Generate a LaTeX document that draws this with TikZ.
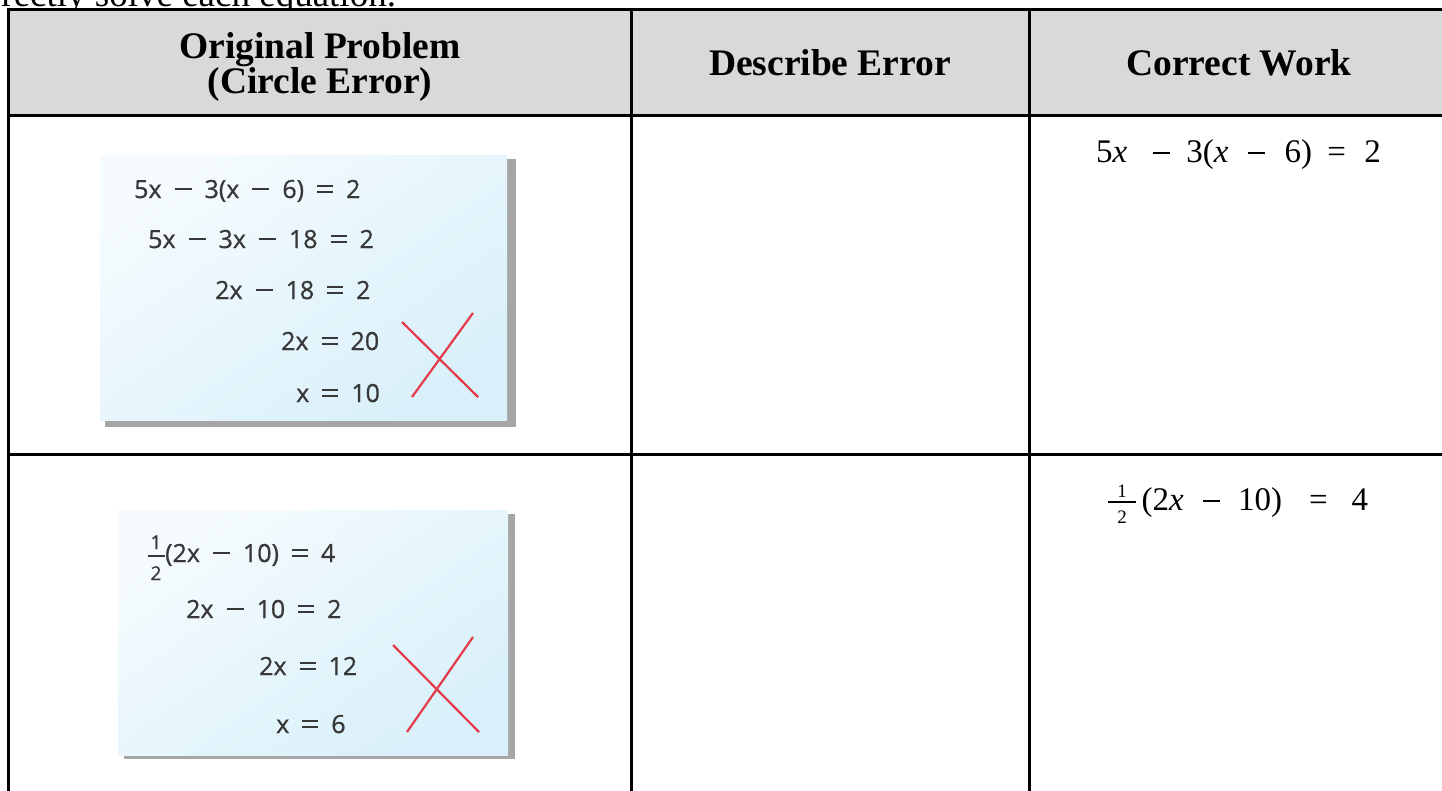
\documentclass[tikz,border=0pt]{standalone}
\usepackage{fontspec}
\setmainfont{Liberation Serif}
\newfontfamily\notefont[FakeBold=0.8]{Open Sans}
\definecolor{hdrgray}{HTML}{D9D9D9}
\definecolor{noteA}{HTML}{D9F0FA}
\definecolor{noteC}{HTML}{F5FBFE}
\definecolor{shadowgray}{HTML}{A6A6A6}
\definecolor{ink}{HTML}{383838}
\definecolor{xred}{HTML}{E43A4A}
\newcommand\ngap{\hspace{13pt}}
\newcommand\nminus{\rule[0.32em]{17pt}{1.9pt}}
\newcommand\nequal{\rlap{\rule[0.2em]{16pt}{1.9pt}}\rule[0.46em]{16pt}{1.9pt}}
\newcommand\wminus{\rule[0.25em]{16.5pt}{1.3pt}}
\newcommand\vx{\textit{x}}
\begin{document}
\begin{tikzpicture}[x=1pt,y=-1pt,
  gridline/.style={line width=3pt, black},
  hdr/.style={font=\fontsize{37.5}{35}\selectfont\bfseries, inner sep=0pt, anchor=base},
  noteeq/.style={font=\notefont\fontsize{25}{25}\selectfont, text=ink, inner sep=0pt, anchor=base west},
  notefrac/.style={font=\notefont\fontsize{19}{19}\selectfont, text=ink, inner sep=0pt, anchor=base},
  workeq/.style={font=\fontsize{33}{40}\selectfont, inner sep=0pt, anchor=base west},
  workfrac/.style={font=\fontsize{19}{19}\selectfont, inner sep=0pt, anchor=base},
  cross/.style={xred, line width=2.2pt},
  shadowbox/.style={fill=shadowgray},
  notebox/.style={left color=noteC, right color=noteA, shading angle=35}
]
\useasboundingbox (0,0) rectangle (1442,790);
\clip (0,0) rectangle (1442,790);

% cut-off instruction line
\node[anchor=base west, inner sep=0pt, font=\fontsize{37}{40}\selectfont] (toptext) at (-46,6) {correctly solve each equation.};

% header
\fill[hdrgray] (8,9) rectangle (1450,115);

% sticky note 1
\fill[shadowbox] (105,159) rectangle (516,427);
\shade[notebox] (100,155) rectangle (507,420);
% sticky note 2
\fill[shadowbox] (124,514) rectangle (515,759);
\shade[notebox] (118,510) rectangle (508,755);

% table grid
\draw[gridline] (6.5,9) -- (1450,9);
\draw[gridline] (6.5,115) -- (1450,115);
\draw[gridline] (6.5,454) -- (1450,454);
\draw[gridline] (8,7.5) -- (8,800);
\draw[gridline] (631,7.5) -- (631,800);
\draw[gridline] (1029,7.5) -- (1029,800);

% header texts
\node[hdr] (h1a) at (320,58) {Original Problem};
\node[hdr] (h1b) at (320,93) {(Circle Error)};
\node[hdr] (h2) at (830,75) {Describe Error};
\node[hdr] (h3) at (1239,75) {Correct Work};

% note 1 equations
\node[noteeq] (n1a) at (134,198) {5x\ngap\nminus\ngap3(x\ngap\nminus\ngap6)\ngap\nequal\ngap2};
\node[noteeq] (n1b) at (148,248) {5x\ngap\nminus\ngap3x\ngap\nminus\ngap18\ngap\nequal\ngap2};
\node[noteeq] (n1c) at (215,299) {2x\ngap\nminus\ngap18\ngap\nequal\ngap2};
\node[noteeq] (n1d) at (281,350) {2x\ngap\nequal\ngap20};
\node[noteeq] (n1e) at (296,402) {x\ngap\nequal\ngap10};
\draw[cross] (402,322) -- (478,397);
\draw[cross] (473,313) -- (412,397);

% note 2 equations
\node[notefrac] (n2num) at (156,549) {1};
\node[notefrac] (n2den) at (156,580) {2};
\draw[ink, line width=1.7pt] (148,556) -- (165,556);
\node[noteeq] (n2a) at (165,562) {(2x\ngap\nminus\ngap10)\ngap\nequal\ngap4};
\node[noteeq] (n2b) at (186,618) {2x\ngap\nminus\ngap10\ngap\nequal\ngap2};
\node[noteeq] (n2c) at (259,675) {2x\ngap\nequal\ngap12};
\node[noteeq] (n2d) at (276,733) {x\ngap\nequal\ngap6};
\draw[cross] (393,645) -- (479,732);
\draw[cross] (473,637) -- (407,732);

% correct work column
\node[workeq] (w1) at (1096,162) {5\vx\hspace{26pt}\wminus\hspace{16.5pt}3(\vx\hspace{20pt}\wminus\hspace{19.5pt}6)\hspace{15.5pt}=\hspace{18.4pt}2};
\node[workfrac] (w2num) at (1122,497) {1};
\node[workfrac] (w2den) at (1122,523) {2};
\draw[line width=1.3pt] (1108,502) -- (1136,502);
\node[workeq] (w2) at (1141.5,510) {(2\vx\hspace{19.3pt}\wminus\hspace{18.5pt}10)\hspace{27pt}=\hspace{24pt}4};
\end{tikzpicture}
\end{document}
